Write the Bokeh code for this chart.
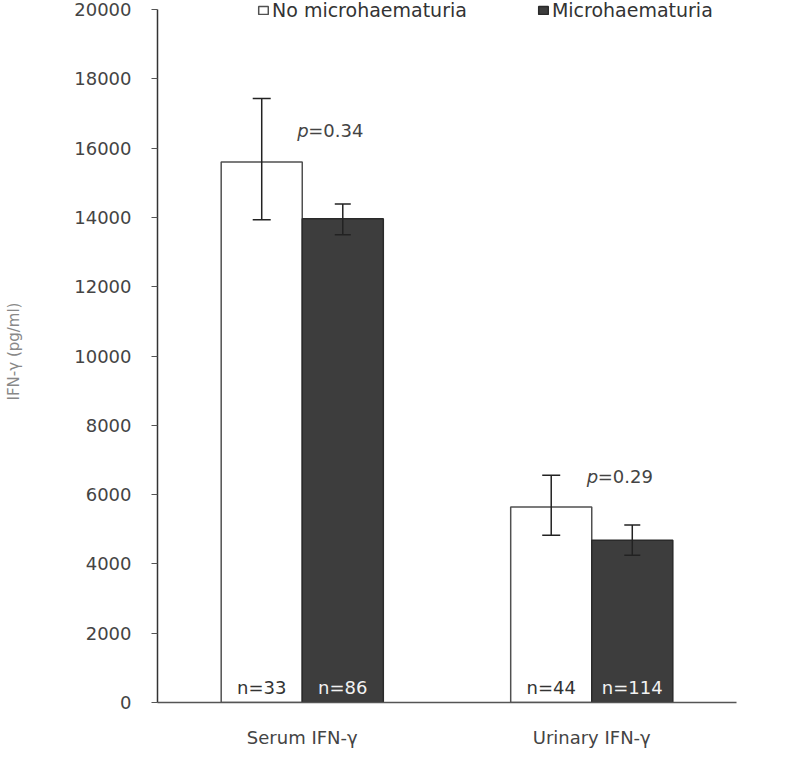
from bokeh.plotting import figure
from bokeh.models import ColumnDataSource, FactorRange, Range1d, Whisker, TeeHead, Legend, LegendItem, FixedTicker
from bokeh.transform import dodge
from bokeh.core.properties import value
from bokeh.embed import file_html
from bokeh.resources import INLINE

groups = ["Serum IFN-γ", "Urinary IFN-γ"]
series = ["No microhaematuria", "Microhaematuria"]
no_micro_mean = [15600, 5640]
no_micro_upper = [17430, 6560]
no_micro_lower = [13930, 4830]
micro_mean = [13960, 4680]
micro_upper = [14390, 5120]
micro_lower = [13500, 4250]
no_micro_n = ["n=33", "n=44"]
micro_n = ["n=86", "n=114"]
p_values = ["=0.34", "=0.29"]
y_ticks = list(range(0, 20001, 2000))

FONT = "DejaVu Sans"

src = ColumnDataSource(dict(
    g=groups, nm=no_micro_mean, nm_up=no_micro_upper, nm_lo=no_micro_lower,
    m=micro_mean, m_up=micro_upper, m_lo=micro_lower,
    nm_n=no_micro_n, m_n=micro_n, pv=p_values, p=["p", "p"], zero=[0, 0],
))

p = figure(x_range=FactorRange(*groups), y_range=Range1d(0, 20260),
           width=790, height=750, output_backend="svg", toolbar_location=None,
           min_border_left=157, min_border_right=54, min_border_top=0, min_border_bottom=40)
p.outline_line_color = None
p.grid.grid_line_color = None

off = 0.14
bw = 0.28
r1 = p.vbar(x=dodge('g', -off, range=p.x_range), top='nm', width=bw, source=src,
            fill_color='white', line_color='#505050', line_width=1.5)
r2 = p.vbar(x=dodge('g', off, range=p.x_range), top='m', width=bw, source=src,
            fill_color='#3d3d3d', line_color='#2a2a2a', line_width=1.5)

for base, up, lo, sz in [(dodge('g', -off, range=p.x_range), 'nm_up', 'nm_lo', 18),
                         (dodge('g', off, range=p.x_range), 'm_up', 'm_lo', 16)]:
    w = Whisker(base=base, upper=up, lower=lo, source=src, line_color='#222222', line_width=1.5,
                upper_head=TeeHead(size=sz, line_color='#222222', line_width=1.5),
                lower_head=TeeHead(size=sz, line_color='#222222', line_width=1.5),
                level='overlay')
    p.add_layout(w)

# n labels
p.text(x=dodge('g', -off, range=p.x_range), y='zero', text='nm_n', source=src,
       text_align='center', text_baseline='bottom', y_offset=-5,
       text_font=value(FONT), text_font_size='18px', text_color='#333333')
p.text(x=dodge('g', off, range=p.x_range), y='zero', text='m_n', source=src,
       text_align='center', text_baseline='bottom', y_offset=-5,
       text_font=value(FONT), text_font_size='18px', text_color='#f2f2f2')

# p values
p.text(x='g', y='nm', text='p', source=src, text_align='left', text_baseline='middle',
       x_offset=-5, y_offset=-31, text_font=value(FONT), text_font_style='italic',
       text_font_size='18px', text_color='#444444')
p.text(x='g', y='nm', text='pv', source=src, text_align='left', text_baseline='middle',
       x_offset=6, y_offset=-31, text_font=value(FONT),
       text_font_size='18px', text_color='#444444')

# axes
p.yaxis.ticker = FixedTicker(ticks=y_ticks)
p.yaxis.bounds = (0, 20000)
p.yaxis.axis_line_color = '#333333'
p.yaxis.axis_line_width = 1.5
p.yaxis.major_tick_out = 6
p.yaxis.major_tick_in = 0
p.yaxis.major_tick_line_color = '#555555'
p.yaxis.minor_tick_line_color = None
p.yaxis.major_label_text_font = FONT
p.yaxis.major_label_text_font_size = '18px'
p.yaxis.major_label_text_color = '#444444'
p.yaxis.major_label_standoff = 20
p.yaxis.axis_label = "IFN-γ (pg/ml)"
p.yaxis.axis_label_text_font = FONT
p.yaxis.axis_label_text_font_size = '15px'
p.yaxis.axis_label_text_font_style = 'normal'
p.yaxis.axis_label_text_color = '#888888'
p.yaxis.axis_label_standoff = 48

p.xaxis.axis_line_color = '#555555'
p.xaxis.axis_line_width = 1.5
p.xaxis.major_tick_line_color = None
p.xaxis.minor_tick_line_color = None
p.xaxis.major_label_text_font = FONT
p.xaxis.major_label_text_font_size = '18px'
p.xaxis.major_label_text_color = '#444444'
p.xaxis.major_label_standoff = 18

legend = Legend(items=[LegendItem(label=series[0], renderers=[r1]),
                       LegendItem(label=series[1], renderers=[r2])],
                orientation='horizontal', location=(100, 681),
                border_line_color=None, background_fill_alpha=0,
                padding=0, margin=0, spacing=70, label_standoff=3,
                glyph_width=12, glyph_height=10,
                label_text_font=FONT, label_text_font_size='19px',
                label_text_color='#333333')
p.add_layout(legend, 'center')

open("out.html", "w").write(file_html(p, INLINE))
